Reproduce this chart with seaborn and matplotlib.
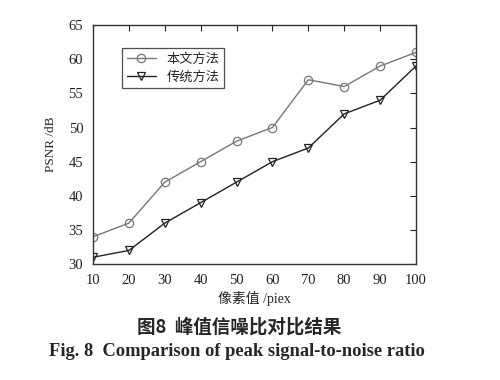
import matplotlib
matplotlib.use('Agg')
import matplotlib.pyplot as plt
import seaborn as sns
import pandas as pd

# data
pixels = [10, 20, 30, 40, 50, 60, 70, 80, 90, 100]
psnr_ours = [34, 36, 42, 45, 48, 50, 57, 56, 59, 61]
psnr_trad = [31, 32, 36, 39, 42, 45, 47, 52, 54, 59]
labels = ['本文方法', '传统方法']

sns.set_theme(style='white')
plt.rcParams['font.family'] = ['Liberation Serif', 'Noto Sans CJK SC']
plt.rcParams['axes.unicode_minus'] = False

df = pd.DataFrame({'x': pixels * 2,
                   'y': psnr_ours + psnr_trad,
                   'method': [labels[0]] * 10 + [labels[1]] * 10})

fig = plt.figure(figsize=(5, 3.8), dpi=100)
ax = fig.add_axes([0.186, 0.305, 0.646, 0.629])

sns.lineplot(data=df, x='x', y='y', hue='method', style='method',
             palette=['#777777', '#222222'], markers=['o', 'v'], dashes=False,
             markersize=6, markerfacecolor='none', markeredgewidth=0.9,
             linewidth=1.0, ax=ax)
for line, c in zip(ax.lines, ['#777777', '#222222']):
    line.set_markeredgecolor(c)

ax.set_xlim(10, 100)
ax.set_ylim(30, 65)
ax.set_xticks(pixels)
ax.set_yticks(range(30, 66, 5))
ax.tick_params(direction='in', top=True, right=True, length=4, width=0.8,
               labelsize=10.5, colors='#222222', pad=7)
for s in ax.spines.values():
    s.set_color('#333333')
    s.set_linewidth(1.0)

ax.set_xlabel('像素值 /piex', fontsize=10, labelpad=3,
              family=['Liberation Serif', 'Noto Sans CJK SC'])
ax.set_ylabel('PSNR /dB', fontsize=9.5, labelpad=8)

leg = ax.legend(loc='upper left', bbox_to_anchor=(0.07, 0.93),
                frameon=True, fancybox=False, edgecolor='#222222',
                handlelength=2.2, borderpad=0.35, labelspacing=0.35,
                prop={'family': ['Noto Sans CJK SC'], 'size': 9.5})
leg.get_frame().set_linewidth(0.9)
for h, c in zip(leg.legend_handles, ['#777777', '#222222']):
    h.set_markerfacecolor('none')
    h.set_markeredgecolor(c)

fig.text(0.478, 0.138, '图8  峰值信噪比对比结果', ha='center', va='center',
         fontsize=13.3, fontweight='bold',
         family=['Noto Sans CJK SC', 'Liberation Serif'])
fig.text(0.473, 0.074, 'Fig. 8  Comparison of peak signal-to-noise ratio',
         ha='center', va='center', fontsize=13.3, fontweight='bold',
         family=['Liberation Serif'])

fig.savefig('out.png', dpi=100)
